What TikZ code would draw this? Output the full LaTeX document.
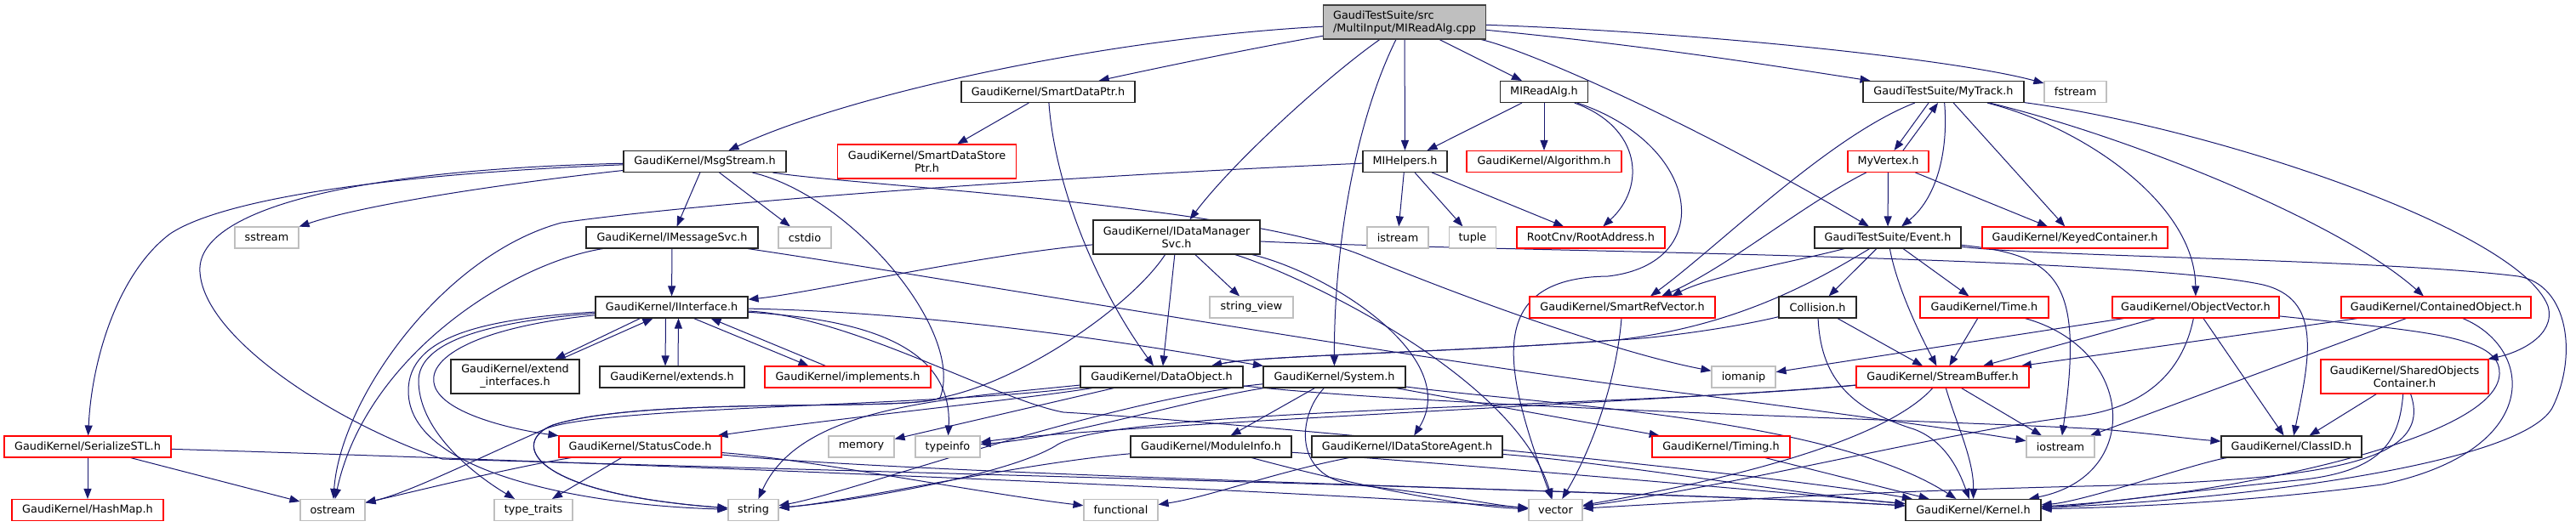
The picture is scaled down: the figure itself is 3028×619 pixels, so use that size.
\documentclass[tikz,border=0pt]{standalone}
\usepackage{fontspec}
\setmainfont{DejaVu Sans}
\usetikzlibrary{arrows.meta}
\definecolor{edgeblue}{RGB}{25,25,112}
\definecolor{grayline}{RGB}{191,191,191}
\newcommand\dxfont{\fontsize{12.8}{15}\selectfont}
\pgfdeclarelayer{bg}\pgfdeclarelayer{edges}\pgfsetlayers{bg,edges,main}
\begin{document}
\begin{tikzpicture}[x=1pt,y=-1pt,
 box/.style={draw=black!85, fill=white, line width=1.1pt, inner sep=0pt, minimum height=25pt, font=\dxfont, text=black},
 redbox/.style={box, draw=red},
 graybox/.style={box, draw=grayline},
 tall/.style={minimum height=40pt, align=center},
 rootbox/.style={box, fill=grayline, draw=black!75, minimum height=40pt, align=left},
 dep/.style={draw=edgeblue, line width=1pt, -{Triangle[length=12pt,width=9pt]}},
]
\begin{pgfonlayer}{bg}
\fill[white] (0,0) rectangle (3028,619);
\end{pgfonlayer}
\useasboundingbox (0,0) rectangle (3028,619);

% row 0
\node[rootbox, minimum width=191pt] (root) at (1651,26) {GaudiTestSuite/src\\/MultiInput/MIReadAlg.cpp};
% row 1
\node[box, minimum width=204pt] (smartdataptr) at (1232,108) {GaudiKernel/SmartDataPtr.h};
\node[box, minimum width=103pt] (mireadalg) at (1815,108) {MIReadAlg.h};
\node[box, minimum width=189pt] (mytrack) at (2284.5,108) {GaudiTestSuite/MyTrack.h};
\node[graybox, minimum width=73pt] (fstream) at (2439.5,108) {fstream};
% row 2
\node[box, minimum width=191pt] (msgstream) at (828.5,190) {GaudiKernel/MsgStream.h};
\node[redbox, tall, minimum width=210pt] (sdsptr) at (1089.5,190) {GaudiKernel/SmartDataStore\\Ptr.h};
\node[box, minimum width=99pt] (mihelpers) at (1651.5,190) {MIHelpers.h};
\node[redbox, minimum width=182pt] (algorithm) at (1815,190) {GaudiKernel/Algorithm.h};
\node[redbox, minimum width=95pt] (myvertex) at (2219.5,190) {MyVertex.h};
% row 3
\node[graybox, minimum width=75pt] (sstream) at (313.5,279.5) {sstream};
\node[box, minimum width=202pt] (imsgsvc) at (790,279.5) {GaudiKernel/IMessageSvc.h};
\node[graybox, minimum width=62pt] (cstdio) at (946,279.5) {cstdio};
\node[box, tall, minimum width=196pt] (idms) at (1383,279) {GaudiKernel/IDataManager\\Svc.h};
\node[graybox, minimum width=72pt] (istream) at (1643,279.5) {istream};
\node[graybox, minimum width=55pt] (tuple) at (1731,279.5) {tuple};
\node[redbox, minimum width=174pt] (rootaddr) at (1870,279.5) {RootCnv/RootAddress.h};
\node[box, minimum width=172pt] (event) at (2219,279.5) {GaudiTestSuite/Event.h};
\node[redbox, minimum width=218pt] (keyed) at (2439,279.5) {GaudiKernel/KeyedContainer.h};
% row 4
\node[box, minimum width=179pt] (iinterface) at (789.5,361.5) {GaudiKernel/IInterface.h};
\node[graybox, minimum width=98pt] (stringview) at (1471,361.5) {string\_view};
\node[redbox, minimum width=218pt] (srv) at (1907,361.5) {GaudiKernel/SmartRefVector.h};
\node[box, minimum width=91pt] (collision) at (2136.5,361.5) {Collision.h};
\node[redbox, minimum width=151pt] (time) at (2332.5,361.5) {GaudiKernel/Time.h};
\node[redbox, minimum width=196pt] (objvec) at (2581,361.5) {GaudiKernel/ObjectVector.h};
\node[redbox, minimum width=223pt] (contained) at (2863.5,361.5) {GaudiKernel/ContainedObject.h};
% row 5
\node[box, tall, minimum width=151pt] (extif) at (605.5,443) {GaudiKernel/extend\\\_interfaces.h};
\node[box, minimum width=170pt] (extends) at (790,443.5) {GaudiKernel/extends.h};
\node[redbox, minimum width=195pt] (implements) at (996.5,443.5) {GaudiKernel/implements.h};
\node[box, minimum width=191pt] (dataobject) at (1365.5,443.5) {GaudiKernel/DataObject.h};
\node[box, minimum width=167pt] (system) at (1568.5,443.5) {GaudiKernel/System.h};
\node[graybox, minimum width=75pt] (iomanip) at (2049.5,443.5) {iomanip};
\node[redbox, minimum width=203pt] (streambuf) at (2283.5,443.5) {GaudiKernel/StreamBuffer.h};
\node[redbox, tall, minimum width=197pt] (shared) at (2826.5,443) {GaudiKernel/SharedObjects\\Container.h};
% row 6
\node[redbox, minimum width=196pt] (serialize) at (103,525.5) {GaudiKernel/SerializeSTL.h};
\node[redbox, minimum width=191pt] (statuscode) at (752.5,525.5) {GaudiKernel/StatusCode.h};
\node[graybox, minimum width=77pt] (memory) at (1012.5,525.5) {memory};
\node[graybox, minimum width=76pt] (typeinfo) at (1114,525.5) {typeinfo};
\node[box, minimum width=189pt] (moduleinfo) at (1423.5,525.5) {GaudiKernel/ModuleInfo.h};
\node[box, minimum width=224pt] (idsa) at (1654,525.5) {GaudiKernel/IDataStoreAgent.h};
\node[redbox, minimum width=162pt] (timing) at (2023,525.5) {GaudiKernel/Timing.h};
\node[graybox, minimum width=80pt] (iostream) at (2422,525.5) {iostream};
\node[box, minimum width=165pt] (classid) at (2693.5,525.5) {GaudiKernel/ClassID.h};
% row 7
\node[redbox, minimum width=178pt] (hashmap) at (103,600) {GaudiKernel/HashMap.h};
\node[graybox, minimum width=76pt] (ostream) at (391,600) {ostream};
\node[graybox, minimum width=92pt] (typetraits) at (627,600) {type\_traits};
\node[graybox, minimum width=59pt] (string) at (885.5,600) {string};
\node[graybox, minimum width=87pt] (functional) at (1317.5,600) {functional};
\node[graybox, minimum width=63pt] (vector) at (1828.5,600) {vector};
\node[box, minimum width=159pt] (kernel) at (2319.5,600) {GaudiKernel/Kernel.h};

\begin{pgfonlayer}{edges}
% root
\draw[dep] (root) .. controls (1300,45) and (1000,110) .. (msgstream);
\draw[dep] (root) .. controls (1480,55) and (1360,80) .. (smartdataptr);
\draw[dep] (root) .. controls (1560,90) and (1450,190) .. (idms);
\draw[dep] (root) .. controls (1590,150) and (1568,300) .. (system);
\draw[dep] (root) -- (mihelpers);
\draw[dep] (root) -- (mireadalg);
\draw[dep] (root) .. controls (1800,60) and (2000,150) .. (event);
\draw[dep] (root) .. controls (1950,55) and (2100,80) .. (mytrack);
\draw[dep] (root) .. controls (2000,38) and (2300,70) .. (fstream);
% MIReadAlg
\draw[dep] (mireadalg) -- (mihelpers);
\draw[dep] (mireadalg) -- (algorithm);
\draw[dep] (mireadalg) .. controls (1930,150) and (1935,220) .. (rootaddr);
\draw[dep] (mireadalg) .. controls (2000,170) and (2020,310) .. (1890,325) .. controls (1740,327) and (1770,440) .. (vector);
% MIHelpers
\draw[dep] (mihelpers) -- (istream);
\draw[dep] (mihelpers) -- (tuple);
\draw[dep] (mihelpers) -- (rootaddr);
\draw[dep] (mihelpers) .. controls (1300,205) and (850,235) .. (660,262) .. controls (520,300) and (400,470) .. (ostream);
% SmartDataPtr
\draw[dep] (smartdataptr) -- (sdsptr);
\draw[dep] (smartdataptr) .. controls (1240,220) and (1290,340) .. (dataobject);
% MsgStream
\draw[dep] (msgstream) -- (imsgsvc);
\draw[dep] (msgstream) -- (cstdio);
\draw[dep] (msgstream) .. controls (600,215) and (430,240) .. (sstream);
\draw[dep] (msgstream) .. controls (450,205) and (260,235) .. (200,275) .. controls (140,320) and (108,420) .. (serialize);
\draw[dep] (msgstream) .. controls (1000,218) and (1450,240) .. (1600,300) .. controls (1720,350) and (1900,415) .. (iomanip);
\draw[dep] (msgstream) .. controls (1000,230) and (1135,390) .. (1105,468) .. controls (1070,485) and (760,465) .. (650,500) .. controls (600,520) and (620,580) .. (string);
\draw[dep] (msgstream) .. controls (400,200) and (230,250) .. (235,320) .. controls (240,400) and (400,500) .. (520,540) .. controls (1200,560) and (2000,580) .. (kernel);
% IMessageSvc
\draw[dep] (imsgsvc) -- (iinterface);
\draw[dep] (imsgsvc) .. controls (600,310) and (430,420) .. (ostream);
\draw[dep] (imsgsvc) .. controls (1100,325) and (1700,430) .. (2000,465) .. controls (2150,485) and (2300,505) .. (iostream);
% IInterface
\draw[dep] ([xshift=-37pt]iinterface.south) -- ([xshift=47pt]extif.north);
\draw[dep] ([xshift=54pt]extif.north) -- ([xshift=-22pt]iinterface.south);
\draw[dep] ([xshift=-7pt]iinterface.south) -- ([xshift=-8pt]extends.north);
\draw[dep] ([xshift=7pt]extends.north) -- ([xshift=8pt]iinterface.south);
\draw[dep] ([xshift=26pt]iinterface.south) -- ([xshift=-46pt]implements.north);
\draw[dep] ([xshift=-26pt]implements.north) -- ([xshift=46pt]iinterface.south);
\draw[dep] (iinterface) .. controls (560,385) and (505,420) .. (510,450) .. controls (515,485) and (600,505) .. (statuscode);
\draw[dep] (iinterface) .. controls (580,378) and (490,400) .. (492,450) .. controls (494,510) and (560,560) .. (typetraits);
\draw[dep] (iinterface) .. controls (570,375) and (480,395) .. (480,460) .. controls (480,560) and (700,595) .. (string);
\draw[dep] (iinterface) .. controls (1000,375) and (1120,400) .. (typeinfo);
\draw[dep] (iinterface) .. controls (1150,368) and (1450,425) .. (system);
\draw[dep] (iinterface) .. controls (1000,372) and (1170,470) .. (1250,485) .. controls (1500,500) and (2100,560) .. (kernel);
% IDataManagerSvc
\draw[dep] (idms) .. controls (1150,300) and (950,345) .. (iinterface);
\draw[dep] (idms) -- (dataobject);
\draw[dep] (idms) -- (stringview);
\draw[dep] (idms) .. controls (1560,320) and (1720,420) .. (idsa);
\draw[dep] (idms) .. controls (1520,320) and (1780,440) .. (vector);
\draw[dep] (idms) .. controls (1700,295) and (2500,300) .. (2660,335) .. controls (2730,352) and (2715,420) .. (classid);
\draw[dep] (idms) .. controls (1330,360) and (1200,450) .. (1105,468) .. controls (1070,485) and (760,465) .. (650,500) .. controls (600,520) and (620,580) .. (string);
% System
\draw[dep] (system) -- (moduleinfo);
\draw[dep] (system) -- (timing);
\draw[dep] (system) .. controls (1800,475) and (2150,490) .. (kernel);
\draw[dep] (system) .. controls (1300,470) and (1000,580) .. (string);
\draw[dep] (system) .. controls (1525,490) and (1520,560) .. (1590,570) .. controls (1700,582) and (1760,595) .. (vector);
\draw[dep] (system) .. controls (1400,470) and (1250,515) .. (typeinfo);
% ModuleInfo
\draw[dep] (moduleinfo) .. controls (1200,545) and (1000,590) .. (string);
\draw[dep] (moduleinfo) .. controls (1550,560) and (1700,595) .. (vector);
\draw[dep] (moduleinfo) .. controls (1700,545) and (2050,575) .. (kernel);
% IDataStoreAgent
\draw[dep] (idsa) .. controls (1500,555) and (1420,585) .. (functional);
\draw[dep] (idsa) .. controls (1900,545) and (2100,580) .. (kernel);
% StatusCode
\draw[dep] (statuscode) -- (typetraits);
\draw[dep] (statuscode) .. controls (600,550) and (480,580) .. (ostream);
\draw[dep] (statuscode) .. controls (950,540) and (1150,580) .. (functional);
\draw[dep] (statuscode) .. controls (1100,560) and (2000,580) .. (kernel);
% SerializeSTL
\draw[dep] (serialize) -- (hashmap);
\draw[dep] (serialize) -- (ostream);
\draw[dep] (serialize) .. controls (600,540) and (1500,575) .. (vector);
% Timing, SmartRefVector, ClassID
\draw[dep] (timing) -- (kernel);
\draw[dep] (srv) .. controls (1900,450) and (1870,530) .. (vector);
\draw[dep] (classid) .. controls (2580,545) and (2450,590) .. (kernel);
% MyTrack
\draw[dep] ([xshift=-17.5pt]mytrack.south) -- ([xshift=7pt]myvertex.north);
\draw[dep] ([xshift=17.5pt]myvertex.north) -- ([xshift=-6.5pt]mytrack.south);
\draw[dep] (mytrack) .. controls (2290,170) and (2280,230) .. (event);
\draw[dep] (mytrack) -- (keyed);
\draw[dep] (mytrack) .. controls (2150,160) and (2020,290) .. ([xshift=33pt]srv.north);
\draw[dep] (mytrack) .. controls (2450,150) and (2580,240) .. (objvec);
\draw[dep] (mytrack) .. controls (2500,160) and (2750,260) .. (contained);
\draw[dep] (mytrack) .. controls (2600,150) and (2960,270) .. (2995,360) .. controls (3005,395) and (2960,415) .. (shared);
% MyVertex
\draw[dep] (myvertex) -- (event);
\draw[dep] (myvertex) -- (keyed);
\draw[dep] (myvertex) .. controls (2120,240) and (2030,315) .. ([xshift=46pt]srv.north);
% Event
\draw[dep] (event) .. controls (2100,310) and (2010,325) .. ([xshift=58pt]srv.north);
\draw[dep] (event) .. controls (2120,340) and (2030,385) .. (1900,400) .. controls (1700,415) and (1480,418) .. (dataobject);
\draw[dep] (event) -- (collision);
\draw[dep] (event) .. controls (2230,340) and (2260,400) .. (streambuf);
\draw[dep] (event) -- (time);
\draw[dep] (event) .. controls (2420,300) and (2450,330) .. (iostream);
\draw[dep] (event) .. controls (2400,302) and (2800,305) .. (2960,325) .. controls (3020,335) and (3030,420) .. (3000,480) .. controls (2960,550) and (2600,590) .. (kernel);
% Collision
\draw[dep] (collision) .. controls (2040,385) and (1950,398) .. (1900,400) .. controls (1700,415) and (1480,418) .. (dataobject);
\draw[dep] (collision) -- (streambuf);
\draw[dep] (collision) .. controls (2140,440) and (2170,480) .. (2250,505) .. controls (2290,520) and (2305,560) .. (kernel);
% Time
\draw[dep] (time) -- (streambuf);
\draw[dep] (time) .. controls (2510,410) and (2520,560) .. (kernel);
% StreamBuffer
\draw[dep] (streambuf) .. controls (2300,500) and (2320,540) .. (kernel);
\draw[dep] (streambuf) -- (iostream);
\draw[dep] (streambuf) .. controls (2210,525) and (2000,570) .. (vector);
\draw[dep] (streambuf) .. controls (2000,470) and (1300,500) .. (typeinfo);
\draw[dep] (streambuf) .. controls (1900,480) and (1300,480) .. (1240,525) .. controls (1180,560) and (1000,590) .. (string);
% ObjectVector
\draw[dep] (objvec) -- (iomanip);
\draw[dep] (objvec) -- (streambuf);
\draw[dep] (objvec) .. controls (2565,440) and (2520,480) .. (2440,490) .. controls (2300,505) and (2050,570) .. (vector);
\draw[dep] (objvec) -- (classid);
\draw[dep] (objvec) .. controls (2850,390) and (2940,395) .. (2938,440) .. controls (2935,520) and (2600,585) .. (kernel);
% ContainedObject
\draw[dep] (contained) -- (streambuf);
\draw[dep] (contained) -- (iostream);
\draw[dep] (contained) .. controls (2980,410) and (2990,530) .. (2800,570) .. controls (2650,590) and (2500,597) .. (kernel);
% SharedObjectsContainer
\draw[dep] (shared) -- (classid);
\draw[dep] (shared) .. controls (2820,520) and (2800,555) .. (2700,565) .. controls (2550,580) and (2450,595) .. (kernel);
\draw[dep] (shared) .. controls (2860,540) and (2750,565) .. (2450,572) .. controls (2200,578) and (2000,590) .. (vector);
% DataObject
\draw[dep] (dataobject) .. controls (1700,480) and (2300,495) .. (2470,505) .. controls (2530,510) and (2570,516) .. (classid);
\draw[dep] (dataobject) .. controls (1200,470) and (1000,490) .. (statuscode);
\draw[dep] (dataobject) -- (memory);
\draw[dep] (dataobject) .. controls (1100,470) and (940,480) .. (string);
\draw[dep] (dataobject) .. controls (1100,478) and (700,478) .. (640,505) .. controls (560,540) and (480,580) .. (ostream);
\end{pgfonlayer}
\end{tikzpicture}
\end{document}
